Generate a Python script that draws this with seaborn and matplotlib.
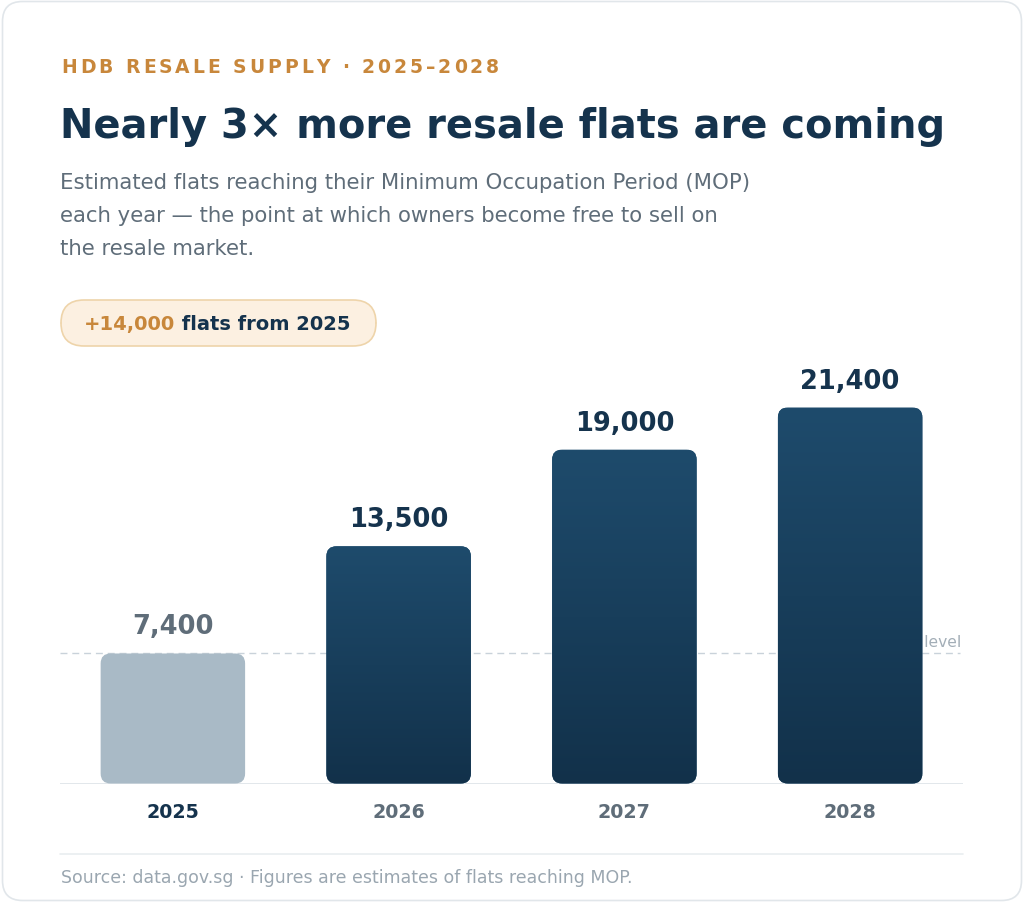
import matplotlib
matplotlib.use("Agg")
import matplotlib.pyplot as plt
import matplotlib.transforms as mtransforms
import seaborn as sns
import pandas as pd
import numpy as np
from matplotlib.patches import FancyBboxPatch
from matplotlib.colors import LinearSegmentedColormap

# data
years = ["2025", "2026", "2027", "2028"]
flats = [7400, 13500, 19000, 21400]
value_labels = ["7,400", "13,500", "19,000", "21,400"]
base_year = "2025"
base_value = 7400
pill_number = "+14,000"
pill_text = " flats from 2025"

eyebrow = "HDB RESALE SUPPLY · 2025–2028"
title = "Nearly 3× more resale flats are coming"
subtitle = ("Estimated flats reaching their Minimum Occupation Period (MOP)\n"
            "each year — the point at which owners become free to sell on\n"
            "the resale market.")
source = "Source: data.gov.sg · Figures are estimates of flats reaching MOP."

# colours
navy = "#15334d"
orange = "#c8873b"
grey_text = "#5f6d79"
light_text = "#9aa6b0"
bar_grey = "#a9bac6"
bar_top = "#1e4b6c"
bar_bottom = "#12314a"

sns.set_theme(style="white")
plt.rcParams["font.family"] = ["DejaVu Sans"]

W, H = 1024, 904
fig = plt.figure(figsize=(W / 100, H / 100), dpi=100)
fig.patch.set_facecolor("white")

def fy(px):
    return 1 - px / H

# card outline
card = FancyBboxPatch((0.025, 0.025), W / 100 - 0.05, H / 100 - 0.05,
                      boxstyle="round,pad=0,rounding_size=0.2",
                      transform=fig.dpi_scale_trans, facecolor="white",
                      edgecolor="#e1e6ea", linewidth=1.2, zorder=-5)
fig.patches.append(card)

renderer = fig.canvas.get_renderer()

# eyebrow with letter spacing
x = 61
for ch in eyebrow:
    t = fig.text(x / W, fy(73), ch, fontsize=13.5, fontweight="bold",
                 color=orange, ha="left", va="baseline")
    w = t.get_window_extent(renderer).width
    if ch == " ":
        w = 0.348 * 13.5 * 100 / 72
    x += w + 3.0

fig.text(60 / W, fy(138), title, fontsize=28.8, fontweight="bold",
         color=navy, ha="left", va="baseline")
fig.text(60 / W, fy(173), subtitle, fontsize=15.3, color=grey_text,
         ha="left", va="top", linespacing=1.8)

# pill badge
pill = FancyBboxPatch((61 / W, fy(347)), 315 / W, 46 / H,
                      boxstyle="round,pad=0,rounding_size=0.0225",
                      mutation_aspect=W / H,
                      transform=fig.transFigure, facecolor="#fcf0e1",
                      edgecolor="#eed4aa", linewidth=1.2)
fig.patches.append(pill)
t1 = fig.text(84 / W, fy(330), pill_number, fontsize=14, fontweight="bold",
              color=orange, ha="left", va="baseline")
w1 = t1.get_window_extent(renderer).width
fig.text((84 + w1) / W, fy(330), pill_text, fontsize=14, fontweight="bold",
         color=navy, ha="left", va="baseline")

# chart area
ax_left, ax_right, ax_bottom = 60, 963, 784.5
ymax = 24000
ax_h = ymax * 0.01757
ax = fig.add_axes([ax_left / W, (H - ax_bottom) / H,
                   (ax_right - ax_left) / W, ax_h / H])
ax.set_facecolor("none")

df = pd.DataFrame({"year": years, "flats": flats})
palette = {y: (bar_grey if y == base_year else bar_top) for y in years}
sns.barplot(data=df, x="year", y="flats", hue="year", palette=palette,
            legend=False, width=0.64, ax=ax)

ax.set_xlim(-0.5, len(years) - 0.5)
ax.set_ylim(0, ymax)

# rounded gradient bars in place of seaborn's rectangles
x_per_px = len(years) / (ax_right - ax_left)
y_per_px = ymax / ax_h
radius = 10 * x_per_px
cmap = LinearSegmentedColormap.from_list("bar", [bar_bottom, bar_top])
grad = np.linspace(0, 1, 256).reshape(-1, 1)
for p, yr in zip(list(ax.patches), years):
    x0, w, h = p.get_x(), p.get_width(), p.get_height()
    p.set_visible(False)
    box = FancyBboxPatch((x0, 0), w, h,
                         boxstyle=f"round,pad=0,rounding_size={radius}",
                         mutation_aspect=y_per_px / x_per_px,
                         facecolor=palette[yr], edgecolor="none", zorder=3)
    ax.add_patch(box)
    if yr != base_year:
        im = ax.imshow(grad, extent=[x0, x0 + w, 0, h], origin="lower",
                       cmap=cmap, aspect="auto", zorder=3.5)
        im.set_clip_path(box)

ax.set_xlim(-0.5, len(years) - 0.5)
ax.set_ylim(0, ymax)

# value labels
for i, (v, lab, yr) in enumerate(zip(flats, value_labels, years)):
    ax.text(i, v + 20 * y_per_px, lab, ha="center", va="baseline",
            fontsize=18.5, fontweight="bold",
            color=grey_text if yr == base_year else navy, zorder=5)

# 2025 reference line (sits behind the bars)
ax.axhline(base_value, xmax=0.997, color="#c9d2da", lw=1.0,
           ls=(0, (5, 3.5)), zorder=1)
trans = mtransforms.blended_transform_factory(ax.transAxes, ax.transData)
ax.text(0.9985, base_value + 7 * y_per_px, "2025 level", transform=trans,
        ha="right", va="baseline", fontsize=11.2, color="#a3aeb7", zorder=2)

ax.axhline(0, color="#dde3e8", lw=1.2, zorder=2)

sns.despine(ax=ax, left=True, bottom=True)
ax.set_yticks([])
ax.set_xlabel("")
ax.set_ylabel("")
ax.tick_params(axis="x", length=0, pad=13)
ax.set_xticks(range(len(years)))
ax.set_xticklabels(years, fontsize=13.7, fontweight="bold")
for lab, yr in zip(ax.get_xticklabels(), years):
    lab.set_color(navy if yr == base_year else grey_text)

# footer
fig.add_artist(plt.Line2D([60 / W, 963 / W], [fy(855), fy(855)],
                          color="#e9edf0", lw=1.2, transform=fig.transFigure))
fig.text(61 / W, fy(883), source, fontsize=12.5, color=light_text,
         ha="left", va="baseline")

fig.savefig("out.png", dpi=100, facecolor="white")
